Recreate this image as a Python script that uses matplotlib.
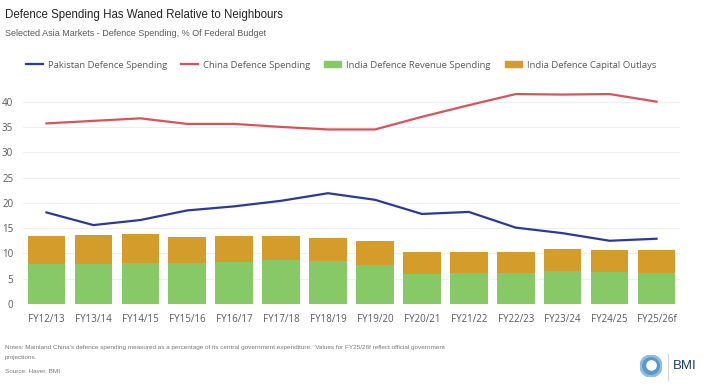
import numpy as np
import matplotlib
matplotlib.use("Agg")
from matplotlib import pyplot as plt
from matplotlib.lines import Line2D
from matplotlib.patches import Patch, Circle

categories = ["FY12/13", "FY13/14", "FY14/15", "FY15/16", "FY16/17", "FY17/18", "FY18/19",
              "FY19/20", "FY20/21", "FY21/22", "FY22/23", "FY23/24", "FY24/25", "FY25/26f"]
pakistan = [18.1, 15.6, 16.6, 18.5, 19.3, 20.4, 21.9, 20.6, 17.8, 18.2, 15.1, 14.0, 12.5, 12.9]
china = [35.7, 36.2, 36.7, 35.6, 35.6, 35.0, 34.5, 34.5, 37.0, 39.3, 41.5, 41.4, 41.5, 40.0]
india_revenue = [7.85, 7.9, 8.2, 8.2, 8.3, 8.6, 8.45, 7.7, 5.9, 6.1, 6.1, 6.5, 6.3, 6.2]
india_capital = [5.65, 5.8, 5.6, 5.1, 5.1, 4.9, 4.65, 4.7, 4.3, 4.1, 4.1, 4.4, 4.3, 4.4]
yticks = [0, 5, 10, 15, 20, 25, 30, 35, 40]

BLUE = "#2b3a9a"
RED = "#d9535c"
GREEN = "#86c966"
GOLD = "#d49c2a"
GRAY = "#595959"

W, H = 709, 387
fig = plt.figure(figsize=(W / 100, H / 100), dpi=100)
ax = fig.add_axes([23 / W, (H - 304) / H, (680 - 23) / W, (304 - 89) / H])

x = np.arange(len(categories))
ax.bar(x, india_revenue, width=0.8, color=GREEN, zorder=2)
ax.bar(x, india_capital, bottom=india_revenue, width=0.8, color=GOLD, zorder=2)
ax.plot(x, pakistan, color=BLUE, lw=1.6, zorder=3)
ax.plot(x, china, color=RED, lw=1.6, zorder=3)

ax.set_xlim(-0.5, len(categories) - 0.5)
ax.set_ylim(0, 42.5)
ax.set_yticks(yticks)
ax.set_xticks(x)
ax.set_xticklabels(categories)
ax.grid(axis="y", color="#eeeeee", lw=0.8, zorder=0)
for s in ax.spines.values():
    s.set_visible(False)
ax.tick_params(length=0, labelsize=7, colors=GRAY, pad=7)
for lab in ax.get_xticklabels() + ax.get_yticklabels():
    lab.set_family(["Open Sans", "DejaVu Sans"])

handles = [Line2D([], [], color=BLUE, lw=1.6),
           Line2D([], [], color=RED, lw=1.6),
           Patch(color=GREEN), Patch(color=GOLD)]
labels = ["Pakistan Defence Spending", "China Defence Spending",
          "India Defence Revenue Spending", "India Defence Capital Outlays"]
leg = fig.legend(handles, labels, loc="center", bbox_to_anchor=(341 / W, 1 - 65 / H), ncol=4,
                 frameon=False, handlelength=1.8, handleheight=0.55,
                 columnspacing=1.5, handletextpad=0.5,
                 prop={"family": ["Open Sans", "DejaVu Sans"], "size": 6.8})
for t in leg.get_texts():
    t.set_color(GRAY)

fig.text(5 / W, 1 - 15 / H, "Defence Spending Has Waned Relative to Neighbours",
         fontsize=8.3, family=["Liberation Sans", "DejaVu Sans"], color="#222222", va="center")
fig.text(5 / W, 1 - 33 / H, "Selected Asia Markets - Defence Spending, % Of Federal Budget",
         fontsize=6.5, family=["Liberation Sans", "DejaVu Sans"], color=GRAY, va="center")

note_kw = dict(fontsize=4.6, family=["Liberation Sans", "DejaVu Sans"], color="#777777", va="center")
fig.text(5 / W, 1 - 347 / H,
         "Notes: Mainland China's defence spending measured as a percentage of its central government expenditure.  "
         "Values for FY25/26f reflect official government", **note_kw)
fig.text(5 / W, 1 - 358 / H, "projections.", **note_kw)
fig.text(5 / W, 1 - 371 / H, "Source: Haver, BMI", **note_kw)

# BMI logo
circ_ax = fig.add_axes([640 / W, (H - 377) / H, 22 / W, 22 / H])
circ_ax.set_xlim(-1, 1)
circ_ax.set_ylim(-1, 1)
circ_ax.set_aspect("equal")
circ_ax.axis("off")
circ_ax.add_patch(Circle((0, 0), 1.0, color="#8dbde0"))
circ_ax.add_patch(Circle((0, 0), 0.75, color="#5a98c9"))
circ_ax.add_patch(Circle((0.05, 0.05), 0.42, color="white"))
fig.add_artist(Line2D([668 / W, 668 / W], [1 - 354 / H, 1 - 380 / H], color="#cccccc", lw=0.6))
fig.text(673 / W, 1 - 366 / H, "BMI", fontsize=9.5, family=["Liberation Sans", "DejaVu Sans"],
         color="#1f3c6e", va="center")

fig.savefig("out.png", dpi=100, facecolor="white")
